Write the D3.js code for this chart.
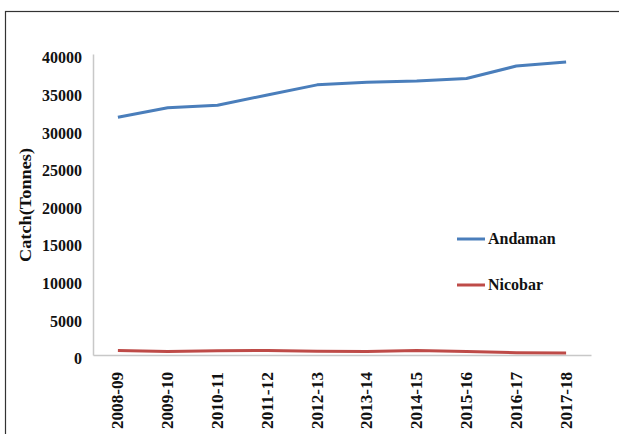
<!DOCTYPE html>
<html>
<head>
<meta charset="utf-8">
<script src="https://cdn.jsdelivr.net/npm/d3@7"></script>
<style>
  html, body { margin: 0; padding: 0; background: #fff; }
  svg { display: block; }
  text { font-family: "Liberation Serif", "Times New Roman", serif; font-weight: bold; fill: #111; }
</style>
</head>
<body>
<svg id="chart" width="619" height="434"></svg>
<script>
const categories = ["2008-09","2009-10","2010-11","2011-12","2012-13","2013-14","2014-15","2015-16","2016-17","2017-18"];
const andaman = [31600, 32850, 33200, 34550, 35900, 36250, 36400, 36750, 38400, 38950];
const nicobar = [600, 450, 550, 600, 500, 480, 600, 450, 300, 280];
const yTicks = [0, 5000, 10000, 15000, 20000, 25000, 30000, 35000, 40000];
const seriesNames = ["Andaman", "Nicobar"];
const seriesColors = ["#4a7ebb", "#be4b48"];

const svg = d3.select("#chart");

// outer frame
svg.append("rect")
  .attr("x", 5.5).attr("y", 11.5)
  .attr("width", 640).attr("height", 440)
  .attr("fill", "none").attr("stroke", "#333").attr("stroke-width", 1.2);

const x = d3.scaleBand().domain(categories).range([93, 591]).padding(0);
const y = d3.scaleLinear().domain([0, 40000]).range([355, 54]);
const cx = d => x(d) + x.bandwidth() / 2;

// y axis
const yAxis = svg.append("g").attr("transform", "translate(93,0)")
  .call(d3.axisLeft(y).tickValues(yTicks).tickSize(0).tickPadding(11).tickFormat(d3.format("d")));
yAxis.select(".domain").attr("stroke", "#c8c8c8").attr("stroke-width", 1.5);
yAxis.selectAll("text")
  .attr("font-family", "Liberation Serif, serif").attr("font-weight", "bold")
  .attr("font-size", 16).attr("fill", "#111").attr("dy", "0.55em");

// x axis
const xAxis = svg.append("g").attr("transform", "translate(0,355)")
  .call(d3.axisBottom(x).tickSize(0).tickFormat(""));
xAxis.select(".domain").attr("stroke", "#c8c8c8").attr("stroke-width", 1.5);

svg.append("g").selectAll("text").data(categories).join("text")
  .attr("transform", d => `translate(${cx(d) + 5.5},372) rotate(-90)`)
  .attr("text-anchor", "end")
  .attr("font-size", 16)
  .attr("textLength", 57).attr("lengthAdjust", "spacingAndGlyphs")
  .text(d => d);

// y title
svg.append("text")
  .attr("transform", "translate(31,205) rotate(-90)")
  .attr("text-anchor", "middle")
  .attr("font-size", 16)
  .attr("textLength", 114).attr("lengthAdjust", "spacingAndGlyphs")
  .text("Catch(Tonnes)");

// lines
const line = d3.line().x((d, i) => cx(categories[i])).y(d => y(d));
[andaman, nicobar].forEach((s, k) => {
  svg.append("path").datum(s)
    .attr("d", line)
    .attr("fill", "none")
    .attr("stroke", seriesColors[k])
    .attr("stroke-width", 3)
    .attr("stroke-linejoin", "round");
});

// legend
const legendY = [239, 285];
seriesNames.forEach((n, k) => {
  svg.append("line")
    .attr("x1", 457).attr("x2", 485)
    .attr("y1", legendY[k]).attr("y2", legendY[k])
    .attr("stroke", seriesColors[k]).attr("stroke-width", 3);
  svg.append("text")
    .attr("x", 488).attr("y", legendY[k] + 5)
    .attr("font-size", 16)
    .text(n);
});
</script>
</body>
</html>
